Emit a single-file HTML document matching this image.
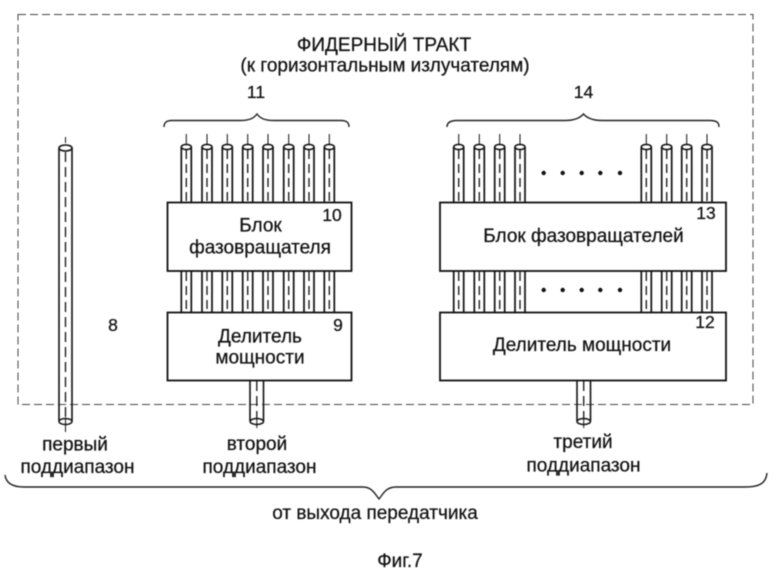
<!DOCTYPE html>
<html><head><meta charset="utf-8"><style>
html,body{margin:0;padding:0;background:#fff}
svg{display:block;filter:blur(.4px)}
text{font-family:"Liberation Sans",sans-serif;fill:#111;stroke:#111;stroke-width:.25px;font-size:19px;text-anchor:middle}
</style></head><body>
<svg width="780" height="573" viewBox="0 0 780 573" xmlns="http://www.w3.org/2000/svg">
<defs>
<g id="tube" fill="none" stroke="#111">
<line x1="0" y1="-13" x2="0" y2="-3" stroke-width="1"/>
<line x1="-5" y1="0" x2="-5" y2="56" stroke-width="1.7"/>
<line x1="5" y1="0" x2="5" y2="56" stroke-width="1.7"/>
<ellipse cx="0" cy="0" rx="5" ry="2.6" fill="#fff" stroke-width="1.6"/>
<line x1="0" y1="3" x2="0" y2="56" stroke-width="1.3" stroke-dasharray="9 5"/>
</g>
<g id="mid" fill="none" stroke="#111">
<line x1="-5" y1="271" x2="-5" y2="313" stroke-width="1.7"/>
<line x1="5" y1="271" x2="5" y2="313" stroke-width="1.7"/>
<line x1="0" y1="272" x2="0" y2="313" stroke-width="1.3" stroke-dasharray="9 5"/>
</g>
</defs>
<rect width="780" height="573" fill="#fff"/>
<rect x="18" y="14.5" width="735" height="390" fill="none" stroke="#444" stroke-width="1" stroke-dasharray="8 4"/>

<!-- first tube -->
<g fill="none" stroke="#111">
<line x1="65.5" y1="137" x2="65.5" y2="143" stroke-width="1"/>
<line x1="59" y1="148" x2="59" y2="421" stroke-width="1.6"/>
<line x1="72" y1="148" x2="72" y2="421" stroke-width="1.6"/>
<ellipse cx="65.500" cy="148" rx="6.500" ry="3" fill="#fff" stroke-width="1.6"/>
<line x1="65.500" y1="152" x2="65.500" y2="420" stroke-width="1.3" stroke-dasharray="10 5"/>
<ellipse cx="65.500" cy="421.500" rx="6.500" ry="3" fill="#fff" stroke-width="1.5"/>
<line x1="65.500" y1="418" x2="65.500" y2="432" stroke-width="1"/>
</g>

<!-- bundle 2 -->
<use href="#tube" x="186.300" y="147"/><use href="#tube" x="207" y="147"/><use href="#tube" x="227.300" y="147"/><use href="#tube" x="247.700" y="147"/><use href="#tube" x="268" y="147"/><use href="#tube" x="288.700" y="147"/><use href="#tube" x="309" y="147"/><use href="#tube" x="329.300" y="147"/>
<use href="#mid" x="186.300"/><use href="#mid" x="207"/><use href="#mid" x="227.300"/><use href="#mid" x="247.700"/><use href="#mid" x="268"/><use href="#mid" x="288.700"/><use href="#mid" x="309"/><use href="#mid" x="329.300"/>

<!-- bundle 3 -->
<use href="#tube" x="458.700" y="147"/><use href="#tube" x="479.300" y="147"/><use href="#tube" x="499.700" y="147"/><use href="#tube" x="520" y="147"/><use href="#tube" x="646.300" y="147"/><use href="#tube" x="666.700" y="147"/><use href="#tube" x="686.700" y="147"/><use href="#tube" x="707" y="147"/>
<use href="#mid" x="458.700"/><use href="#mid" x="479.300"/><use href="#mid" x="499.700"/><use href="#mid" x="520"/><use href="#mid" x="646.300"/><use href="#mid" x="666.700"/><use href="#mid" x="686.700"/><use href="#mid" x="707"/>

<!-- stubs -->
<g fill="none" stroke="#111">
<line x1="250" y1="381" x2="250" y2="421" stroke-width="1.6"/><line x1="263.500" y1="381" x2="263.500" y2="421" stroke-width="1.6"/>
<line x1="256.800" y1="381" x2="256.800" y2="418" stroke-width="1.3" stroke-dasharray="10 5"/>
<ellipse cx="256.800" cy="421.500" rx="6.700" ry="3" fill="#fff" stroke-width="1.5"/>
<line x1="256.800" y1="418" x2="256.800" y2="428" stroke-width="1"/>
<line x1="577" y1="381" x2="577" y2="421" stroke-width="1.6"/><line x1="590.500" y1="381" x2="590.500" y2="421" stroke-width="1.6"/>
<line x1="583.700" y1="381" x2="583.700" y2="418" stroke-width="1.3" stroke-dasharray="10 5"/>
<ellipse cx="583.700" cy="421.500" rx="6.700" ry="3" fill="#fff" stroke-width="1.5"/>
<line x1="583.700" y1="418" x2="583.700" y2="428" stroke-width="1"/>
</g>

<!-- boxes -->
<g fill="#fff" stroke="#111" stroke-width="1.8">
<rect x="167.500" y="202.500" width="184" height="68.500"/>
<rect x="167.500" y="312.500" width="184" height="68"/>
<rect x="440" y="202.500" width="286" height="68.500"/>
<rect x="440" y="312.500" width="286" height="68"/>
</g>

<!-- dots -->
<g fill="#111">
<circle cx="543.700" cy="173" r="2.200"/><circle cx="562.700" cy="173" r="2.200"/><circle cx="581.700" cy="173" r="2.200"/><circle cx="600.300" cy="173" r="2.200"/><circle cx="620" cy="173" r="2.200"/>
<circle cx="543.700" cy="290" r="2.200"/><circle cx="562.700" cy="290" r="2.200"/><circle cx="581.700" cy="290" r="2.200"/><circle cx="600.300" cy="290" r="2.200"/><circle cx="620" cy="290" r="2.200"/>
</g>

<!-- braces -->
<g fill="none" stroke="#222" stroke-width="1.4">
<path d="M164 127 C164 122 167 120.500 172 120.500 L240 120.500 C250 120.500 254 118 257 114 C260 118 264 120.500 274 120.500 L341 120.500 C346 120.500 349 122 349 127"/>
<path d="M447 127 C447 122 451 120.500 457 120.500 L565 120.500 C575 120.500 580 118 583.500 114 C587 118 592 120.500 602 120.500 L710 120.500 C716 120.500 719 122 719 127"/>
<path d="M5 475 C6 483 12 487 24 487 L363 487 C372 487 375 494 379 499 C383 494 386 487 396 487 L745 487 C760 487 766 483 767 473"/>
</g>

<!-- text -->
<text x="384" y="51">ФИДЕРНЫЙ ТРАКТ</text>
<text x="385" y="71.500">(к горизонтальным излучателям)</text>
<text x="256" y="98" style="font-size:17.500px">11</text>
<text x="583.500" y="98" style="font-size:17.500px">14</text>
<text x="113" y="331" style="font-size:17.500px">8</text>
<text x="332" y="221" style="font-size:17.500px">10</text>
<text x="338" y="331" style="font-size:17.500px">9</text>
<text x="706" y="219" style="font-size:17.500px">13</text>
<text x="705" y="328" style="font-size:17.500px">12</text>
<text x="260.500" y="231.500">Блок</text>
<text x="260" y="253.500">фазовращателя</text>
<text x="260" y="342.500">Делитель</text>
<text x="260" y="363.500">мощности</text>
<text x="583.500" y="242">Блок фазовращателей</text>
<text x="582" y="351">Делитель мощности</text>
<text x="75" y="450.500">первый</text>
<text x="77.500" y="473">поддиапазон</text>
<text x="257" y="450">второй</text>
<text x="259.500" y="473">поддиапазон</text>
<text x="583" y="448">третий</text>
<text x="583.500" y="471.500">поддиапазон</text>
<text x="375" y="519">от выхода передатчика</text>
<text x="400" y="567">Фиг.7</text>
</svg>
</body></html>
